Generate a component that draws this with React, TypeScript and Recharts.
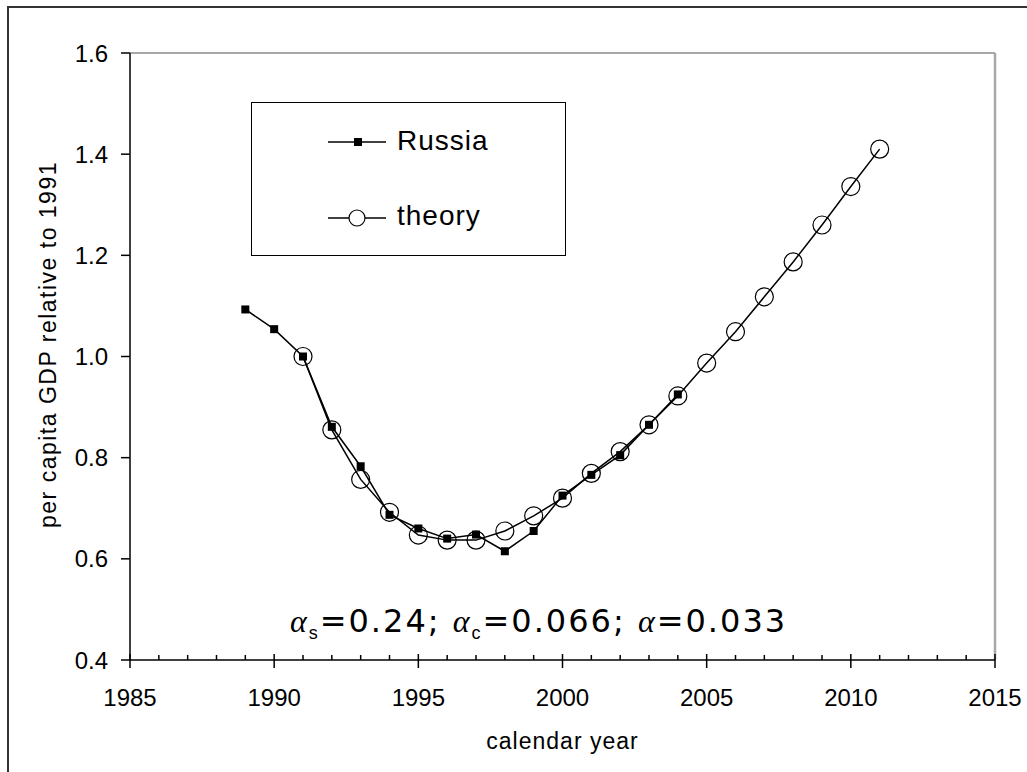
import React from 'react';
import { LineChart, Line, XAxis, YAxis, Legend, Label } from 'recharts';

// Russia, per capita GDP relative to 1991 (filled squares)
const russiaYears = [1989, 1990, 1991, 1992, 1993, 1994, 1995, 1996, 1997, 1998, 1999, 2000, 2001, 2002, 2003, 2004];
const russiaValues = [1.093, 1.054, 1.0, 0.861, 0.783, 0.687, 0.66, 0.64, 0.648, 0.615, 0.655, 0.725, 0.766, 0.805, 0.865, 0.925];

// theory curve (open circles)
const theoryYears = [1991, 1992, 1993, 1994, 1995, 1996, 1997, 1998, 1999, 2000, 2001, 2002, 2003, 2004, 2005, 2006, 2007, 2008, 2009, 2010, 2011];
const theoryValues = [1.0, 0.855, 0.757, 0.692, 0.647, 0.637, 0.637, 0.655, 0.685, 0.72, 0.769, 0.812, 0.865, 0.922, 0.987, 1.049, 1.118, 1.187, 1.26, 1.336, 1.41];

const yearTicks = [1985, 1986, 1987, 1988, 1989, 1990, 1991, 1992, 1993, 1994, 1995, 1996, 1997, 1998, 1999, 2000, 2001, 2002, 2003, 2004, 2005, 2006, 2007, 2008, 2009, 2010, 2011, 2012, 2013, 2014, 2015];
const labeledYears = [1985, 1990, 1995, 2000, 2005, 2010, 2015];
const valueTicks = [0.4, 0.6, 0.8, 1.0, 1.2, 1.4, 1.6];

const SANS = '"Liberation Sans", Arial, sans-serif';

const rows: { year: number; russia?: number; theory?: number }[] = [];
const rowFor = (year: number) => {
  let r = rows.find((d) => d.year === year);
  if (!r) {
    r = { year };
    rows.push(r);
  }
  return r;
};
russiaYears.forEach((y, i) => (rowFor(y).russia = russiaValues[i]));
theoryYears.forEach((y, i) => (rowFor(y).theory = theoryValues[i]));
rows.sort((a, b) => a.year - b.year);

const SquareDot = (props: any) => {
  const { cx, cy, value } = props;
  if (value == null || cx == null) return null;
  return <rect x={cx - 4} y={cy - 4} width={8} height={8} fill="#000" />;
};

const CircleDot = (props: any) => {
  const { cx, cy, value } = props;
  if (value == null || cx == null) return null;
  return <circle cx={cx} cy={cy} r={9} fill="none" stroke="#000" strokeWidth={1.2} />;
};

const YearTick = (props: any) => {
  const { x, y, payload } = props;
  const major = labeledYears.includes(payload.value);
  return (
    <g>
      {major ? (
        <line x1={x} x2={x} y1={y - 6} y2={y + 8} stroke="#000" strokeWidth={1.5} />
      ) : (
        <line x1={x} x2={x} y1={y - 5} y2={y} stroke="#000" strokeWidth={1.5} />
      )}
      {major && (
        <text x={x} y={y + 46} textAnchor="middle" fontSize={24} fontFamily={SANS} fill="#000">
          {payload.value}
        </text>
      )}
    </g>
  );
};

const renderLegend = () => (
  <div
    style={{
      width: 315,
      height: 154,
      boxSizing: 'border-box',
      border: '1.5px solid #000',
      background: '#fff',
      position: 'relative',
      fontFamily: SANS,
      fontSize: 28,
      letterSpacing: 1,
    }}
  >
    <svg width={70} height={150} style={{ position: 'absolute', left: 76, top: 0 }}>
      <line x1={0} x2={58} y1={39} y2={39} stroke="#000" strokeWidth={1.5} />
      <rect x={26} y={35} width={8} height={8} fill="#000" />
      <line x1={0} x2={58} y1={115} y2={115} stroke="#000" strokeWidth={1.5} />
      <circle cx={29} cy={115} r={8} fill="#fff" stroke="#000" strokeWidth={1.2} />
    </svg>
    <div style={{ position: 'absolute', left: 145, top: 22, lineHeight: '32px' }}>Russia</div>
    <div style={{ position: 'absolute', left: 145, top: 97, lineHeight: '32px' }}>theory</div>
  </div>
);

export default function App() {
  return (
    <div style={{ position: 'fixed', left: 0, top: 0, width: 1027, height: 772, overflow: 'hidden', background: '#fff' }}>
      <div style={{ position: 'absolute', left: 7, top: 6, width: 1100, height: 2, background: '#333' }} />
      <div style={{ position: 'absolute', left: 7, top: 6, width: 2, height: 900, background: '#333' }} />
      <div style={{ position: 'absolute', left: 0, top: 0 }}>
        <LineChart width={1027} height={772} data={rows} margin={{ top: 52, right: 31, bottom: 111, left: 129 }}>
          <XAxis
            xAxisId="top"
            orientation="top"
            dataKey="year"
            type="number"
            domain={[1985, 2015]}
            height={1}
            tick={false}
            tickLine={false}
            axisLine={{ stroke: '#a8a8a8', strokeWidth: 2 }}
          />
          <YAxis
            yAxisId="right"
            orientation="right"
            type="number"
            domain={[0.4, 1.6]}
            width={1}
            tick={false}
            tickLine={false}
            axisLine={{ stroke: '#a8a8a8', strokeWidth: 2.5 }}
          />
          <XAxis
            xAxisId="main"
            dataKey="year"
            type="number"
            domain={[1985, 2015]}
            ticks={yearTicks}
            interval={0}
            height={1}
            tickSize={0}
            tickMargin={0}
            tick={<YearTick />}
            axisLine={{ stroke: '#000', strokeWidth: 1.5 }}
          >
            <Label
              content={(p: any) => {
                const vb = p.viewBox || { x: 130, y: 660, width: 865 };
                return (
                  <text
                    x={vb.x + vb.width / 2}
                    y={vb.y + 89}
                    textAnchor="middle"
                    fontSize={23}
                    letterSpacing={1}
                    fontFamily={SANS}
                    fill="#000"
                  >
                    calendar year
                  </text>
                );
              }}
            />
          </XAxis>
          <YAxis
            yAxisId="main"
            type="number"
            domain={[0.4, 1.6]}
            ticks={valueTicks}
            interval={0}
            width={1}
            tickSize={9}
            tickMargin={13}
            tickFormatter={(v: number) => v.toFixed(1)}
            tick={{ fontSize: 24, fontFamily: SANS, fill: '#000' }}
            tickLine={{ stroke: '#000', strokeWidth: 1.5 }}
            axisLine={{ stroke: '#000', strokeWidth: 1.5 }}
          >
            <Label
              content={(p: any) => {
                const vb = p.viewBox || { x: 129, y: 53, height: 607 };
                const cx = vb.x + vb.width - 74;
                const cy = vb.y + vb.height / 2 - 12;
                return (
                  <text
                    x={cx}
                    y={cy}
                    transform={`rotate(-90 ${cx} ${cy})`}
                    textAnchor="middle"
                    fontSize={23}
                    letterSpacing={1.5}
                    fontFamily={SANS}
                    fill="#000"
                  >
                    per capita GDP relative to 1991
                  </text>
                );
              }}
            />
          </YAxis>
          <Legend
            layout="vertical"
            align="center"
            verticalAlign="middle"
            content={renderLegend}
            wrapperStyle={{ position: 'absolute', left: 251, top: 102, width: 315, height: 154 }}
          />
          <Line
            xAxisId="main"
            yAxisId="main"
            dataKey="russia"
            name="Russia"
            type="linear"
            stroke="#000"
            strokeWidth={1.5}
            dot={<SquareDot />}
            activeDot={false}
            isAnimationActive={false}
          />
          <Line
            xAxisId="main"
            yAxisId="main"
            dataKey="theory"
            name="theory"
            type="linear"
            stroke="#000"
            strokeWidth={1.5}
            dot={<CircleDot />}
            activeDot={false}
            isAnimationActive={false}
          />
        </LineChart>
      </div>
      <div
        style={{
          position: 'absolute',
          left: 106,
          width: 865,
          top: 601,
          textAlign: 'center',
          fontFamily: '"DejaVu Sans", sans-serif',
          fontSize: 32,
          letterSpacing: 2,
          color: '#000',
          lineHeight: '40px',
        }}
      >
        <span style={{ fontFamily: '"Liberation Serif", serif', fontStyle: 'italic' }}>α</span>
        <sub style={{ fontSize: 18, fontFamily: SANS }}>s</sub>=0.24;{' '}
        <span style={{ fontFamily: '"Liberation Serif", serif', fontStyle: 'italic' }}>α</span>
        <sub style={{ fontSize: 18, fontFamily: SANS }}>c</sub>=0.066;{' '}
        <span style={{ fontFamily: '"Liberation Serif", serif', fontStyle: 'italic' }}>α</span>=0.033
      </div>
    </div>
  );
}
